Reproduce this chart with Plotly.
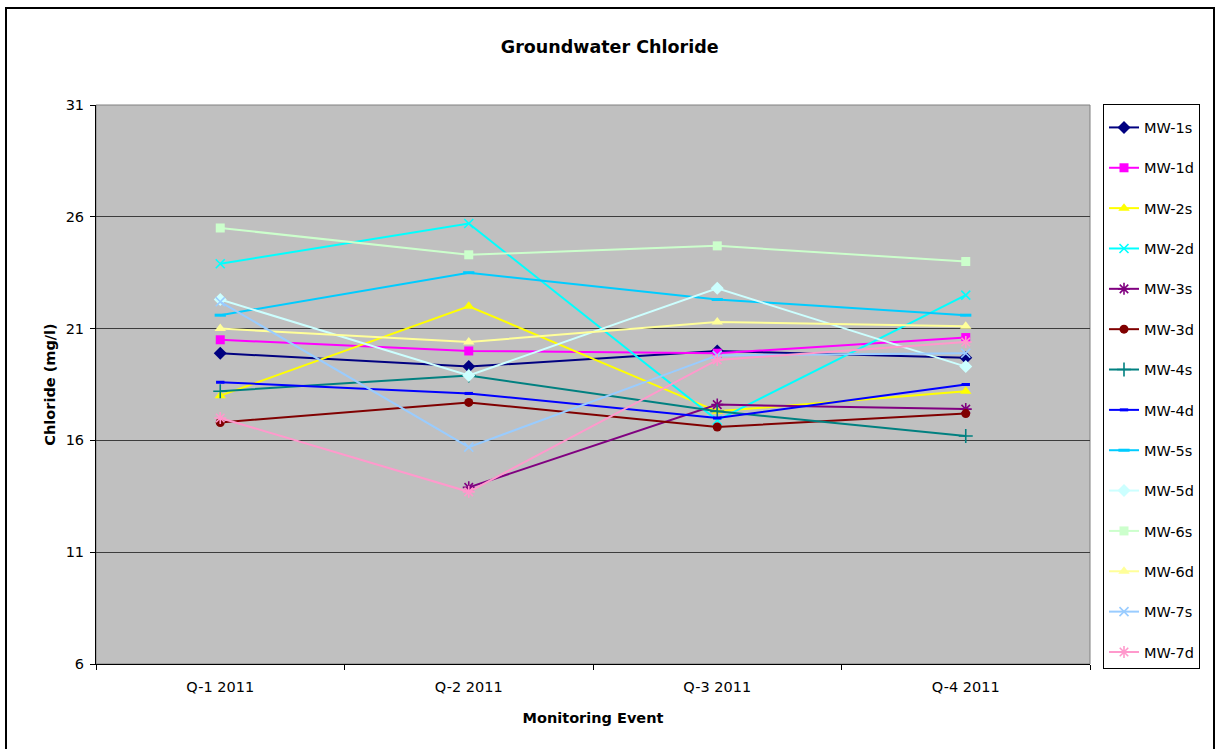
import plotly.graph_objects as go

# Quarterly monitoring events
events = ["Q-1 2011", "Q-2 2011", "Q-3 2011", "Q-4 2011"]

# Chloride concentrations (mg/l) per monitoring well
mw_1s = [19.9, 19.3, 20.0, 19.7]
mw_1d = [20.5, 20.0, 19.9, 20.6]
mw_2s = [18.0, 22.0, 17.3, 18.2]
mw_2d = [23.9, 25.7, 16.9, 22.5]
mw_3s = [None, 13.9, 17.6, 17.4]
mw_3d = [16.8, 17.7, 16.6, 17.2]
mw_4s = [18.2, 18.9, 17.3, 16.2]
mw_4d = [18.6, 18.1, 17.0, 18.5]
mw_5s = [21.6, 23.5, 22.3, 21.6]
mw_5d = [22.3, 18.9, 22.8, 19.3]
mw_6s = [25.5, 24.3, 24.7, 24.0]
mw_6d = [21.0, 20.4, 21.3, 21.1]
mw_7s = [22.2, 15.7, 19.8, 19.9]
mw_7d = [17.0, 13.7, 19.6, 20.4]

y_ticks = [6, 11, 16, 21, 26, 31]

# name, values, colour, marker symbol, marker size
series = [
    ("MW-1s", mw_1s, "#000080", "diamond", 10),
    ("MW-1d", mw_1d, "#FF00FF", "square", 9),
    ("MW-2s", mw_2s, "#FFFF00", "triangle-up", 10),
    ("MW-2d", mw_2d, "#00FFFF", "x-thin", 9),
    ("MW-3s", mw_3s, "#800080", "asterisk", 10),
    ("MW-3d", mw_3d, "#800000", "circle", 9),
    ("MW-4s", mw_4s, "#008080", "cross-thin", 10),
    ("MW-4d", mw_4d, "#0000FF", "line-ew", 6),
    ("MW-5s", mw_5s, "#00CCFF", "line-ew", 8),
    ("MW-5d", mw_5d, "#CCFFFF", "diamond", 10),
    ("MW-6s", mw_6s, "#CCFFCC", "square", 9),
    ("MW-6d", mw_6d, "#FFFF99", "triangle-up", 10),
    ("MW-7s", mw_7s, "#99CCFF", "x-thin", 9),
    ("MW-7d", mw_7d, "#FF99CC", "asterisk", 10),
]

line_only = {"x-thin", "cross-thin", "asterisk", "line-ew"}

fig = go.Figure()
for name, vals, color, sym, size in series:
    if sym in line_only:
        mline = dict(color=color, width=3 if sym == "line-ew" else 1.6)
    else:
        mline = dict(color=color, width=0)
    fig.add_trace(go.Scatter(
        x=events, y=vals, name=name, mode="lines+markers",
        legendgroup=name,
        line=dict(color=color, width=2),
        marker=dict(symbol=sym, size=size, color=color, line=mline),
        connectgaps=False,
    ))

FONT = "DejaVu Sans"

fig.update_layout(
    width=1223, height=749,
    margin=dict(l=96, r=133, t=105, b=85),
    paper_bgcolor="white",
    plot_bgcolor="#C0C0C0",
    font=dict(family=FONT, size=14.5, color="black"),
    title=dict(
        text="<b>Groundwater Chloride</b>",
        font=dict(family=FONT, size=17.5, color="black"),
        x=0.4985, xanchor="center", xref="container",
        y=1 - 47 / 749, yanchor="middle", yref="container",
    ),
    showlegend=True,
    legend=dict(
        xref="container", yref="container",
        x=1103 / 1223, xanchor="left",
        y=1 - 104 / 749, yanchor="top",
        maxheight=720,
        bordercolor="black", borderwidth=1,
        bgcolor="white",
        font=dict(family=FONT, size=14.5, color="black"),
        title=dict(text=" ", font=dict(size=5)),
        tracegroupgap=18.5,
        traceorder="grouped",
    ),
    xaxis=dict(
        type="category",
        range=[-0.5, 3.5],
        showline=True, linecolor="black", linewidth=1,
        ticks="outside", tickson="boundaries", ticklen=5, tickcolor="black",
        showgrid=False, zeroline=False,
        tickfont=dict(family=FONT, size=14.5),
        ticklabelstandoff=10,
        title=dict(text="<b>Monitoring Event</b>",
                   font=dict(family=FONT, size=14.5), standoff=18),
    ),
    yaxis=dict(
        range=[6, 31],
        tickmode="array", tickvals=y_ticks,
        showline=True, linecolor="black", linewidth=1,
        ticks="outside", ticklen=5, tickcolor="black",
        showgrid=True, gridcolor="#3c3c3c", gridwidth=1,
        zeroline=False,
        tickfont=dict(family=FONT, size=14.5),
        ticklabelstandoff=3,
        title=dict(text="<b>Chloride (mg/l)</b>",
                   font=dict(family=FONT, size=14.5), standoff=6),
    ),
    shapes=[
        # grey frame of the plotting area (top and right edges show)
        dict(type="rect", xref="paper", yref="paper", x0=0, x1=1, y0=0, y1=1,
             line=dict(color="#808080", width=1), layer="below"),
        # outer chart border
        dict(type="rect", xref="paper", yref="paper",
             x0=(6 - 96) / 994, x1=(1214 - 96) / 994,
             y0=(664 - 760) / 559, y1=(664 - 8) / 559,
             line=dict(color="black", width=2)),
    ],
)

fig.write_html("out.html")
